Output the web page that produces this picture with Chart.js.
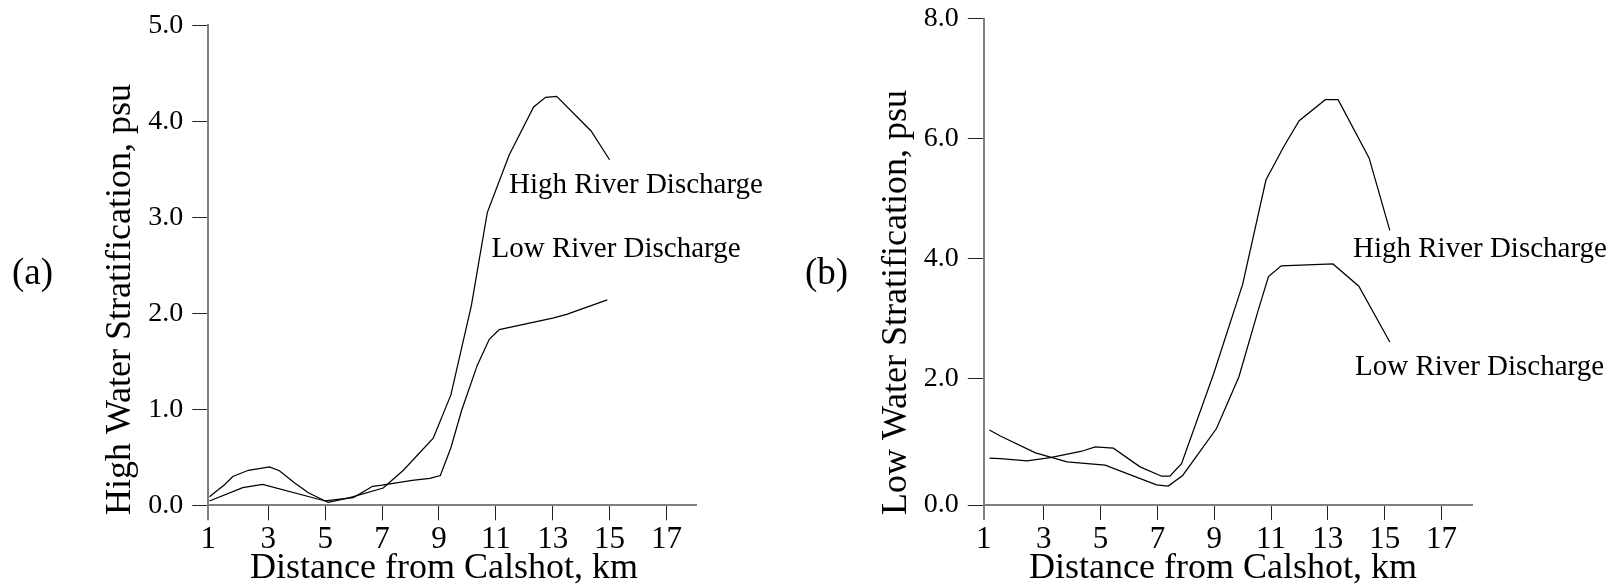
<!DOCTYPE html>
<html><head><meta charset="utf-8">
<script src="https://cdn.jsdelivr.net/npm/chart.js@4.4.1/dist/chart.umd.min.js"></script>
<style>
html,body{margin:0;padding:0;background:#fff;width:1612px;height:585px;overflow:hidden}
#ca{position:absolute;left:0;top:0;width:790px;height:585px}
#cb{position:absolute;left:790px;top:0;width:822px;height:585px}
</style></head><body>
<canvas id="ca" width="790" height="585"></canvas>
<canvas id="cb" width="822" height="585"></canvas>
<script>
const FONT = "'Liberation Serif','Times New Roman',serif";

// tick values and labels
const xTickValues = [1, 3, 5, 7, 9, 11, 13, 15, 17];
const xTickLabels = ['1', '3', '5', '7', '9', '11', '13', '15', '17'];
const yTicksA = [0, 1, 2, 3, 4, 5];
const yLabelsA = ['0.0', '1.0', '2.0', '3.0', '4.0', '5.0'];
const yTicksB = [0, 2, 4, 6, 8];
const yLabelsB = ['0.0', '2.0', '4.0', '6.0', '8.0'];

// (a) High water stratification
const hwHighX = [0.93, 1.48, 1.75, 2.3, 3.04, 3.39, 3.94, 4.41, 5.0, 5.11, 5.87, 7.04, 7.75, 8.8, 9.42, 10.14, 10.7, 11.47, 12.33, 12.75, 13.14, 14.35, 15.0];
const hwHighY = [0.09, 0.22, 0.30, 0.365, 0.40, 0.36, 0.23, 0.13, 0.045, 0.03, 0.08, 0.18, 0.365, 0.70, 1.15, 2.08, 3.05, 3.65, 4.15, 4.25, 4.26, 3.90, 3.60];
const hwLowX = [0.93, 2.10, 2.80, 5.0, 5.99, 6.67, 7.0, 8.06, 8.68, 9.05, 9.42, 9.8, 10.35, 10.77, 11.12, 13.0, 13.49, 14.92];
const hwLowY = [0.045, 0.184, 0.219, 0.045, 0.08, 0.198, 0.21, 0.26, 0.28, 0.31, 0.60, 0.99, 1.46, 1.73, 1.83, 1.95, 1.99, 2.14];

// (b) Low water stratification
const lwHighX = [1.09, 1.47, 2.41, 3.23, 4.34, 4.81, 5.45, 6.39, 7.15, 7.44, 7.85, 8.98, 10.0, 10.82, 11.45, 11.99, 12.91, 13.36, 14.45, 15.18];
const lwHighY = [0.67, 0.665, 0.626, 0.68, 0.787, 0.86, 0.837, 0.526, 0.37, 0.37, 0.58, 2.08, 3.57, 5.31, 5.87, 6.30, 6.65, 6.65, 5.68, 4.47];
const lwLowX = [1.09, 1.47, 2.71, 3.82, 5.16, 6.97, 7.38, 7.89, 9.08, 9.87, 10.55, 10.91, 11.36, 13.18, 14.09, 15.18];
const lwLowY = [1.14, 1.04, 0.76, 0.61, 0.554, 0.226, 0.205, 0.383, 1.165, 2.03, 3.14, 3.70, 3.88, 3.91, 3.54, 2.61];

function pts(xs, ys) { return xs.map((v, i) => ({ x: v, y: ys[i] })); }

function build(canvas, o) {
  const textPlugin = {
    id: 'texts',
    afterDraw(chart) {
      const ctx = chart.ctx;
      ctx.save();
      ctx.fillStyle = '#000';
      ctx.textBaseline = 'alphabetic';
      ctx.textAlign = 'left';
      for (const t of o.texts) {
        ctx.font = t.size + 'px ' + FONT;
        ctx.save();
        ctx.translate(t.x, t.y);
        if (t.rot) ctx.rotate(-Math.PI / 2);
        ctx.fillText(t.text, 0, 0);
        ctx.restore();
      }
      ctx.restore();
    }
  };
  return new Chart(canvas, {
    type: 'line',
    data: {
      datasets: o.series.map(s => ({
        data: pts(s[0], s[1]), borderColor: '#000', borderWidth: 1.25,
        pointRadius: 0, tension: 0, fill: false
      }))
    },
    options: {
      responsive: false, animation: false, devicePixelRatio: 1,
      layout: { padding: o.padding },
      plugins: { legend: { display: false }, tooltip: { enabled: false } },
      scales: {
        x: {
          type: 'linear', min: o.xMin, max: o.xMax,
          afterBuildTicks(s) { s.ticks = xTickValues.map((v, i) => ({ value: i === 0 ? s.min : v })); },
          afterFit(s) { s.height = 50; },
          ticks: {
            callback: (v, i) => xTickLabels[i], font: { family: FONT, size: 31 },
            color: '#000', padding: 1, maxRotation: 0, autoSkip: false
          },
          grid: {
            drawOnChartArea: false, drawTicks: true, tickLength: 15,
            color: c => c.index === 0 ? '#808080' : '#222',
            lineWidth: c => c.index === 0 ? 2 : 1
          },
          border: { color: '#808080', width: 2 }
        },
        y: {
          type: 'linear', min: o.yMin, max: o.yMax,
          afterBuildTicks(s) { s.ticks = o.yTicks.map((v, i) => ({ value: i === 0 ? s.min : v })); },
          afterFit(s) { s.width = 70; },
          ticks: {
            callback: (v, i) => o.yLabels[i], font: { family: FONT, size: 28, lineHeight: 0.5 },
            color: '#000', padding: 9, autoSkip: false
          },
          grid: { drawOnChartArea: false, drawTicks: true, tickLength: 16, color: '#222', lineWidth: 1 },
          border: { color: '#808080', width: 2 }
        }
      }
    },
    plugins: [textPlugin]
  });
}

build(document.getElementById('ca'), {
  series: [[hwHighX, hwHighY], [hwLowX, hwLowY]],
  xMin: 0.89, xMax: 18.05, yMin: 0, yMax: 5,
  yTicks: yTicksA, yLabels: yLabelsA,
  padding: { left: 138.3, right: 93.7, top: 25.4, bottom: 29.7 },
  texts: [
    { text: '(a)', x: 12, y: 284, size: 37 },
    { text: 'High Water Stratification, psu', x: 130, y: 515, size: 36, rot: true },
    { text: 'Distance from Calshot, km', x: 250, y: 578, size: 36 },
    { text: 'High River Discharge', x: 509, y: 193.3, size: 29 },
    { text: 'Low River Discharge', x: 491.5, y: 256.7, size: 29 }
  ]
});

build(document.getElementById('cb'), {
  series: [[lwHighX, lwHighY], [lwLowX, lwLowY]],
  xMin: 0.89, xMax: 18.08, yMin: -0.11, yMax: 8,
  yTicks: yTicksB, yLabels: yLabelsB,
  padding: { left: 123.8, right: 139.8, top: 18.8, bottom: 30 },
  texts: [
    { text: '(b)', x: 15, y: 284, size: 37 },
    { text: 'Low Water Stratification, psu', x: 116, y: 515, size: 36, rot: true },
    { text: 'Distance from Calshot, km', x: 239, y: 578, size: 36 },
    { text: 'High River Discharge', x: 563, y: 256.7, size: 29 },
    { text: 'Low River Discharge', x: 565, y: 375, size: 29 }
  ]
});
</script>
</body></html>
